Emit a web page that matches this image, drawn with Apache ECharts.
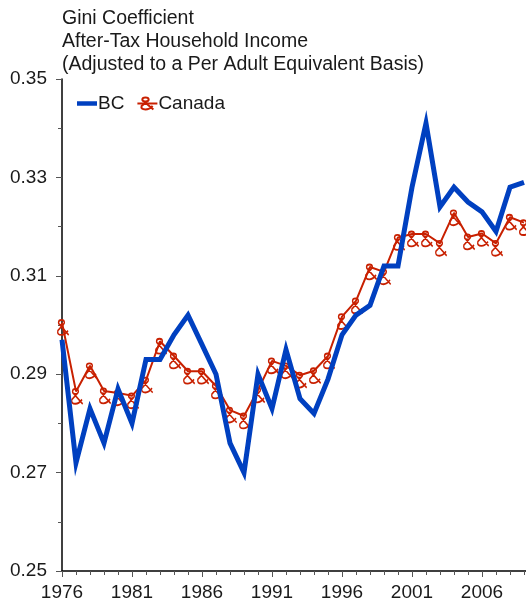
<!DOCTYPE html>
<html>
<head>
<meta charset="utf-8">
<script src="https://cdn.jsdelivr.net/npm/echarts@6/dist/echarts.min.js"></script>
<style>html,body{margin:0;padding:0;background:#fff}#c{width:526px;height:603px}</style>
</head>
<body>
<div id="c"></div>
<script>
var years = [1976,1977,1978,1979,1980,1981,1982,1983,1984,1985,1986,1987,1988,1989,1990,1991,1992,1993,1994,1995,1996,1997,1998,1999,2000,2001,2002,2003,2004,2005,2006,2007,2008,2009];
var bcValues = [0.297,0.272,0.283,0.276,0.287,0.280,0.293,0.293,0.298,0.302,0.296,0.290,0.276,0.270,0.290,0.283,0.295,0.285,0.282,0.289,0.298,0.302,0.304,0.312,0.312,0.328,0.341,0.324,0.328,0.325,0.323,0.319,0.328,0.329];
var canadaValues = [0.3005,0.2865,0.2917,0.2866,0.2862,0.2856,0.2888,0.2967,0.2937,0.2906,0.2906,0.2876,0.2827,0.2815,0.2868,0.2927,0.2917,0.2898,0.2907,0.2937,0.3017,0.3049,0.3118,0.3108,0.3178,0.3185,0.3185,0.3166,0.3228,0.3179,0.3186,0.3166,0.3219,0.3208];
var yTicks = [0.25,0.27,0.29,0.31,0.33,0.35];
var titleLines = ['Gini Coefficient','After-Tax Household Income','(Adjusted to a Per Adult Equivalent Basis)'];

var BLUE = '#0040c0', RED = '#c82000';
var FONT = 'Liberation Sans, Arial, sans-serif';
var amp = 'path://M6.2,2.5A2.2,2.2,0,1,1,1.8,2.5A2.2,2.2,0,1,1,6.2,2.5Z M5.4,4.3L1.3,9.6Q0.5,13.4,4,13.4Q6.6,13.4,9,9.6 M2.7,4.5L9.5,13.5';

function pairs(vals){ return years.map(function(y,i){ return [y, vals[i]]; }); }

var chart = echarts.init(document.getElementById('c'), null, {renderer:'canvas'});
chart.setOption({
  animation: false,
  textStyle: {fontFamily: FONT},
  title: {
    text: titleLines.join('\n'), left: 62, top: 7, padding: 0,
    textStyle: {fontSize: 19.5, fontWeight: 'normal', color: '#1a1a1a', lineHeight: 23, fontFamily: FONT}
  },
  legend: {
    left: 77, top: 94, itemWidth: 20, itemHeight: 15, itemGap: 12, padding: 0,
    textStyle: {fontSize: 19, color: '#1a1a1a', padding: [0,0,0,-4]},
    data: [
      {name: 'BC', icon: 'path://M0,0L20,0L20,4.5L0,4.5Z', itemStyle: {color: BLUE}},
      {name: 'Canada'}
    ]
  },
  grid: {left: 62, top: 79, right: 0, bottom: 32, containLabel: false},
  xAxis: {
    type: 'value', min: 1976, max: 2009.143, interval: 5,
    axisLine: {lineStyle: {color: '#000', width: 1.5}},
    axisTick: {show: true, length: 6, lineStyle: {color: '#555'}},
    minorTick: {show: true, splitNumber: 5, length: 4, lineStyle: {color: '#555'}},
    splitLine: {show: false},
    axisLabel: {fontSize: 19, color: '#1a1a1a', margin: 12, showMaxLabel: false, formatter: function(v){return String(Math.round(v));}}
  },
  yAxis: {
    type: 'value', min: yTicks[0], max: yTicks[yTicks.length-1], interval: 0.02,
    axisLine: {show: true, lineStyle: {color: '#000', width: 1.5}},
    axisTick: {show: true, length: 6, lineStyle: {color: '#555'}},
    minorTick: {show: true, splitNumber: 2, length: 4, lineStyle: {color: '#555'}},
    splitLine: {show: false},
    axisLabel: {fontSize: 19, color: '#1a1a1a', margin: 15, formatter: function(v){return v.toFixed(2);}}
  },
  series: [
    {
      name: 'BC', type: 'line', data: pairs(bcValues), showSymbol: false, symbol: 'none',
      lineStyle: {color: BLUE, width: 5, join: 'miter'}, itemStyle: {color: BLUE}, z: 3
    },
    {
      name: 'Canada', type: 'line', data: pairs(canadaValues),
      symbol: amp, symbolSize: [11, 15], symbolOffset: [1.2, 5.0],
      itemStyle: {color: 'none', borderColor: RED, borderWidth: 1.6},
      lineStyle: {color: RED, width: 2}, z: 2
    }
  ]
});
</script>
</body>
</html>
